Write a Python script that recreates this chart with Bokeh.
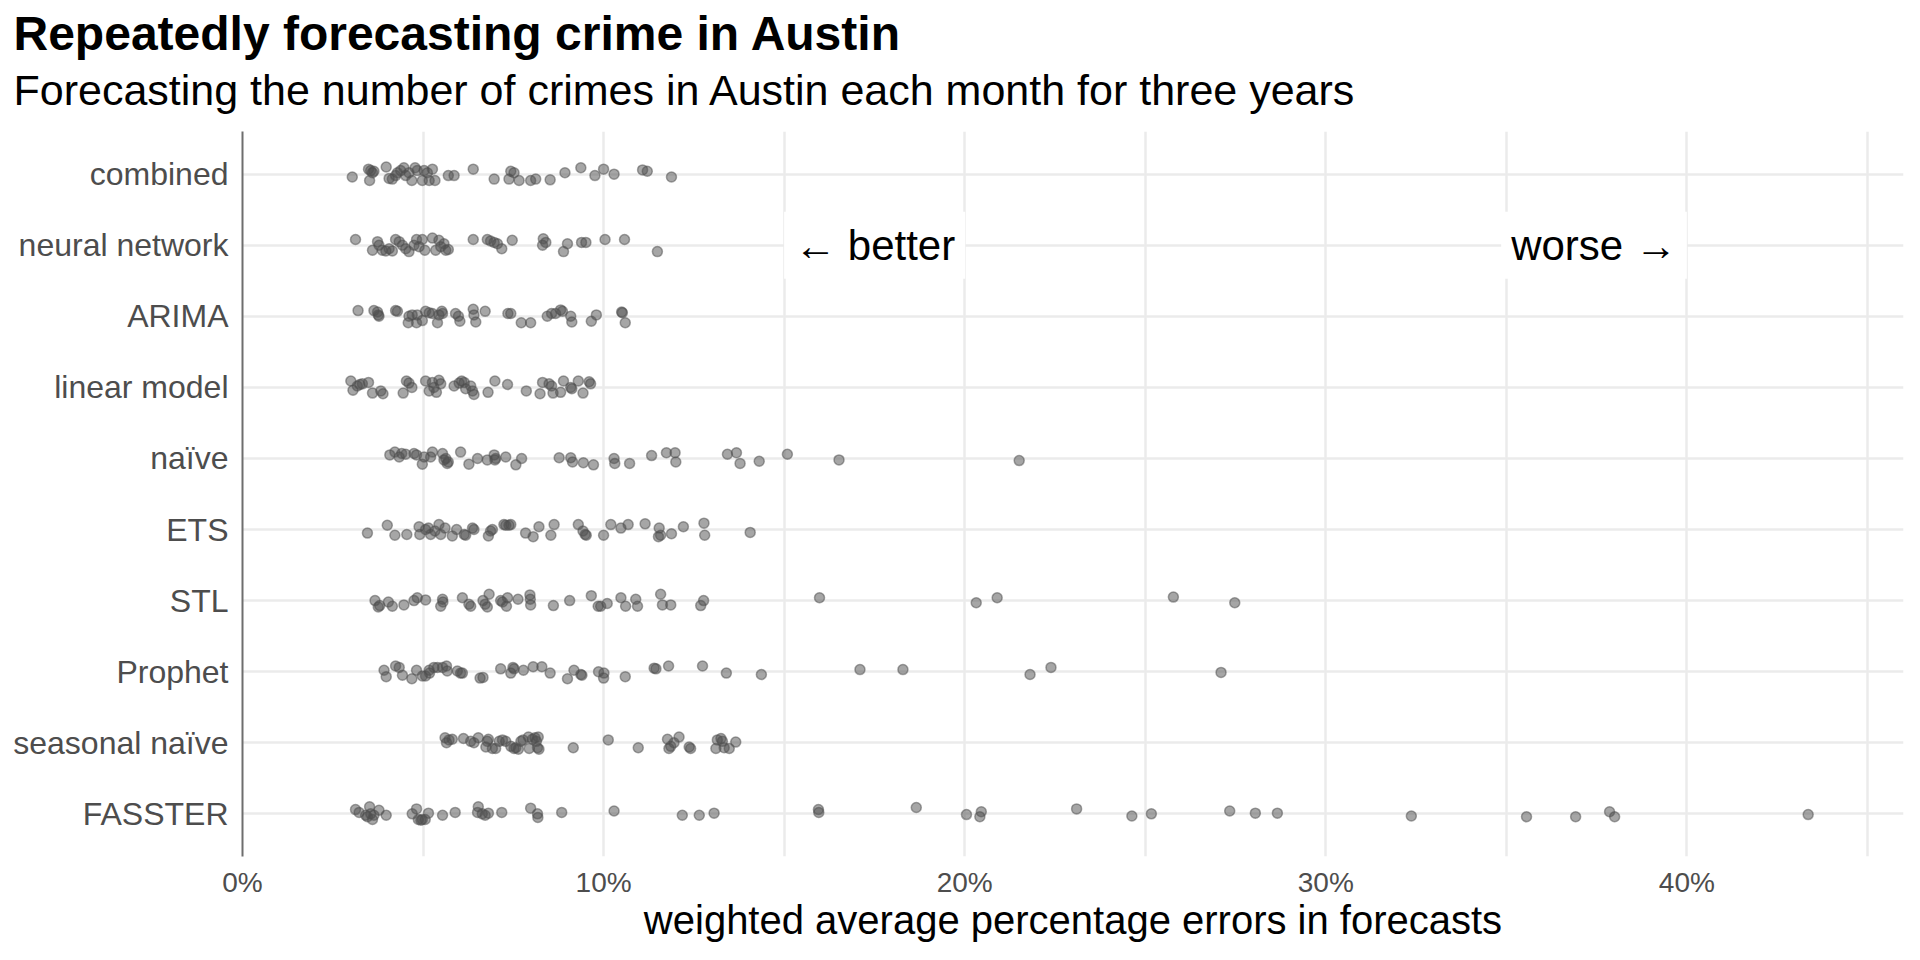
from bokeh.plotting import figure
from bokeh.models import FixedTicker, Label, Title, Range1d, ColumnDataSource
from bokeh.embed import file_html
from bokeh.resources import INLINE

# ---------------- data ----------------
methods = ["combined", "neural network", "ARIMA", "linear model", "naïve",
           "ETS", "STL", "Prophet", "seasonal naïve", "FASSTER"]

combined_x = [3.04, 3.49, 3.55, 3.64, 3.52, 3.60, 3.98, 4.06, 4.15, 4.24, 4.29, 4.38, 4.47, 4.52, 4.61,
              4.69, 4.78, 4.84, 4.98, 5.03, 5.12, 5.17, 5.26, 5.33, 5.70, 5.86, 6.39, 6.97, 7.38, 7.43,
              7.52, 7.66, 7.98, 8.12, 8.52, 8.93, 9.37, 9.76, 10.00, 10.29, 11.08, 11.21, 11.88]
combined_j = [-.04, .07, .05, .04, -.09, .02, .10, -.06, -.07, -.02, .02, .05, .09, -.02, .02,
              -.09, .09, .05, -.09, .05, .02, -.09, .07, -.09, -.02, -.02, .07, -.07, -.07, .04,
              .02, -.09, -.09, -.07, -.08, .02, .09, -.02, .07, 0, .06, .04, -.04]

neural_x = [3.13, 3.60, 3.74, 3.78, 3.87, 3.97, 4.06, 4.15, 4.24, 4.34, 4.43, 4.52, 4.61, 4.75, 4.82,
            4.89, 4.98, 5.05, 5.26, 5.35, 5.44, 5.49, 5.58, 5.63, 5.70, 6.39, 6.78, 6.87, 6.97, 7.06,
            7.18, 7.47, 8.33, 8.31, 8.40, 8.89, 9.00, 9.39, 9.51, 10.04, 10.58, 11.49]
neural_j = [.08, -.07, .05, 0, -.07, -.08, -.05, -.08, .08, .05, 0, -.05, -.09, 0, .08,
            -.02, .08, -.07, .10, -.07, .07, -.02, .02, -.07, -.06, .08, .08, .06, .04, .02,
            -.05, .07, .09, 0, .04, -.09, .02, .04, .04, .08, .08, -.09]

arima_x = [3.20, 3.64, 3.74, 3.78, 3.76, 4.24, 4.29, 4.61, 4.59, 4.70, 4.82, 4.84, 4.98, 5.07, 5.17,
           5.26, 5.40, 5.44, 5.52, 5.54, 5.90, 5.98, 6.02, 6.39, 6.41, 6.46, 6.72, 7.35, 7.43, 7.72,
           7.98, 8.44, 8.56, 8.67, 8.81, 8.86, 9.09, 9.12, 9.66, 9.80, 10.50, 10.52, 10.60]
arima_j = [.08, .08, .06, 0, .02, .08, .07, 0, -.09, .02, -.09, .02, -.06, .07, .05,
           .04, -.09, .02, .07, .04, .04, 0, -.07, .10, .02, -.08, .07, .04, .04, -.09,
           -.09, 0, .04, .04, .09, .07, 0, -.08, -.07, .02, .06, .05, -.09]

linear_x = [3.00, 3.06, 3.18, 3.25, 3.32, 3.49, 3.60, 3.83, 3.89, 4.45, 4.54, 4.61, 4.69, 5.07, 5.17,
            5.26, 5.30, 5.37, 5.44, 5.49, 5.86, 6.00, 6.07, 6.14, 6.18, 6.32, 6.37, 6.41, 6.80, 6.99,
            7.34, 7.86, 8.24, 8.31, 8.49, 8.56, 8.60, 8.81, 8.89, 9.09, 9.12, 9.30, 9.43, 9.60, 9.64]
linear_j = [.09, -.04, .02, .04, .05, .07, -.08, -.05, -.09, -.08, .09, .06, 0, .09, -.05,
            .07, 0, -.07, .10, .05, .02, .06, .09, .07, -.02, .02, -.05, -.10, -.07, .09,
            .04, -.05, -.09, .07, .05, .02, -.08, -.07, .09, 0, -.02, .09, -.08, .08, .05]

naive_x = [4.08, 4.22, 4.34, 4.41, 4.52, 4.75, 4.82, 4.98, 5.03, 5.21, 5.26, 5.54, 5.58, 5.67, 5.63,
           5.70, 6.04, 6.27, 6.51, 6.78, 6.97, 7.01, 6.99, 7.29, 7.57, 7.73, 8.77, 9.09, 9.14, 9.44,
           9.72, 10.29, 10.31, 10.72, 11.33, 11.74, 11.98, 12.00, 13.43, 13.68, 13.78, 14.31, 15.09,
           16.52, 21.51]
naive_j = [.05, .09, .02, .07, .06, .07, .05, -.08, .02, .02, .09, .07, -.02, -.07, 0,
           -.05, .09, -.08, 0, -.02, .05, 0, -.02, .02, -.09, 0, .01, .01, -.05, -.06,
           -.09, 0, -.07, -.07, .04, .08, .08, -.05, .06, .08, -.07, -.04, .06,
           -.02, -.03]

ets_x = [3.46, 4.01, 4.22, 4.55, 4.89, 4.91, 5.07, 5.15, 5.21, 5.33, 5.44, 5.49, 5.61, 5.81, 5.93,
         6.14, 6.18, 6.37, 6.41, 6.81, 6.87, 6.92, 7.24, 7.29, 7.38, 7.43, 7.84, 8.05, 8.21, 8.54,
         8.63, 9.30, 9.43, 9.49, 9.52, 10.00, 10.20, 10.48, 10.68, 11.15, 11.54, 11.52, 11.58, 11.88,
         12.21, 12.78, 12.80, 14.06]
ets_j = [-.05, .06, -.08, -.07, .04, -.07, 0, .02, -.07, -.02, .07, -.07, .02, -.09, 0,
         -.07, -.08, .02, 0, -.09, -.02, 0, .07, .06, .06, .07, -.05, -.10, .04, -.08,
         .07, .07, -.02, -.07, -.08, -.08, .07, .02, .07, .08, .02, -.10, -.08, -.06,
         .04, .09, -.08, -.04]

stl_x = [3.67, 3.76, 3.80, 4.04, 4.15, 4.47, 4.75, 4.84, 5.07, 5.49, 5.54, 5.55, 6.09, 6.27, 6.32,
         6.66, 6.72, 6.78, 6.83, 7.15, 7.20, 7.31, 7.34, 7.63, 7.96, 7.97, 7.98, 8.61, 9.06, 9.66,
         9.85, 9.92, 10.10, 10.48, 10.61, 10.89, 10.94, 11.58, 11.63, 11.86, 12.69, 12.77,
         15.98, 20.32, 20.90, 25.78, 27.48]
stl_j = [0, -.09, -.07, -.02, -.08, -.06, 0, .04, .01, -.08, .02, -.02, .04, -.05, -.08,
         0, -.05, -.09, .09, 0, -.02, -.08, .04, .02, .08, .02, -.06, -.07, 0, .07,
         -.08, -.08, -.04, .04, -.08, .02, -.08, .09, -.06, -.06, -.07, 0,
         .04, -.03, .04, .05, -.03]

prophet_x = [3.92, 3.98, 4.24, 4.34, 4.43, 4.69, 4.82, 4.98, 5.07, 5.17, 5.18, 5.30, 5.40, 5.54, 5.65,
             5.67, 5.95, 6.04, 6.09, 6.58, 6.66, 7.15, 7.43, 7.49, 7.52, 7.78, 8.05, 8.29, 8.52, 9.00,
             9.18, 9.37, 9.40, 9.86, 10.01, 10.00, 10.60, 11.40, 11.45, 11.80, 12.74, 13.40, 14.37,
             17.10, 18.29, 21.81, 22.39, 27.10]
prophet_j = [.02, -.07, .08, .06, -.05, -.10, .02, -.06, -.06, .02, -.02, .06, .06, .06, .08,
             .01, .01, -.02, -.02, -.09, -.08, .04, -.02, .06, .04, .02, .07, .07, -.02, -.10,
             .02, -.04, -.05, 0, -.02, -.09, -.07, .05, .04, .08, .08, -.02, -.04,
             .03, .03, -.04, .06, -.01]

snaive_x = [5.61, 5.65, 5.72, 5.81, 6.12, 6.32, 6.41, 6.53, 6.74, 6.78, 6.81, 6.92, 7.01, 7.11, 7.20,
            7.29, 7.43, 7.52, 7.57, 7.64, 7.71, 7.77, 7.92, 7.94, 8.03, 8.10, 8.14, 8.19, 8.21, 8.17,
            9.16, 10.13, 10.96, 11.77, 11.81, 11.86, 11.95, 12.09, 12.37, 12.41, 13.11, 13.15, 13.25,
            13.29, 13.34, 13.48, 13.66]
snaive_j = [.07, 0, .04, .05, .06, .02, 0, .07, -.06, .02, .05, -.08, -.08, .02, .04,
            .02, -.05, -.08, -.07, -.09, .02, .04, .08, -.08, .05, .07, .02, .08, -.09, -.07,
            -.07, .04, -.07, .05, -.08, -.05, 0, .08, -.06, -.08, -.08, .04, .06,
            .02, -.07, -.08, .01]

fasster_x = [3.13, 3.23, 3.41, 3.46, 3.52, 3.55, 3.60, 3.64, 3.78, 3.98, 4.70, 4.82, 4.87, 4.94, 4.98,
             5.06, 5.15, 5.54, 5.89, 6.53, 6.51, 6.64, 6.72, 6.81, 7.18, 7.98, 8.17, 8.18, 8.84, 10.29,
             12.18, 12.65, 13.06, 15.95, 15.96, 18.66, 20.05, 20.46, 20.42, 23.10, 24.63, 25.17, 27.34,
             28.05, 28.66, 32.37, 35.56, 36.92, 37.86, 38.00, 43.36]
fasster_j = [.06, .02, -.02, -.04, .10, 0, -.08, -.02, .05, -.02, 0, .07, -.08, -.09, -.08,
             -.08, .01, -.02, .02, .10, .02, 0, -.02, .01, .02, .08, 0, -.05, .02, .04,
             -.02, -.02, .01, .06, .02, .09, -.01, .03, -.04, .07, -.03, 0, .04,
             .01, .01, -.03, -.04, -.04, .03, -.04, -.01]

series_x = [combined_x, neural_x, arima_x, linear_x, naive_x, ets_x, stl_x, prophet_x, snaive_x, fasster_x]
series_j = [combined_j, neural_j, arima_j, linear_j, naive_j, ets_j, stl_j, prophet_j, snaive_j, fasster_j]

x_tick_values = [0, 10, 20, 30, 40]
x_tick_labels = ["0%", "10%", "20%", "30%", "40%"]
x_minor_values = [5, 15, 25, 35, 45]

title_text = "Repeatedly forecasting crime in Austin"
subtitle_text = "Forecasting the number of crimes in Austin each month for three years"
x_title = "weighted average percentage errors in forecasts"

# ---------------- build ----------------
n = len(methods)
ypos = {m: n - 1 - i for i, m in enumerate(methods)}  # combined on top

xs, ys = [], []
for m, vx, vj in zip(methods, series_x, series_j):
    for k, v in enumerate(vx):
        jj = vj[k] if k < len(vj) else 0.0
        xs.append(v)
        ys.append(ypos[m] + jj)
src = ColumnDataSource(dict(x=xs, y=ys))

FONT = "Liberation Sans"
GRID = "#EBEBEB"

p = figure(width=1904, height=944, output_backend="svg", toolbar_location=None, title=None,
           x_range=Range1d(0, 46), y_range=Range1d(-0.6, n - 1 + 0.6),
           min_border_left=242, min_border_right=1, min_border_bottom=87, min_border_top=131)
p.outline_line_color = None
p.background_fill_color = "white"
p.border_fill_color = "white"

# titles: stacked outward from the frame (spacer, subtitle, title)
spacer = Title(text=" ", text_font=FONT, text_font_size="14px", align="left", standoff=0)
p.add_layout(spacer, "above")
sub = Title(text=subtitle_text, text_font=FONT, text_font_size="43px", text_font_style="normal",
            text_color="black", align="left", offset=-229, standoff=0)
p.add_layout(sub, "above")
ttl = Title(text=title_text, text_font=FONT, text_font_size="48px", text_font_style="bold",
            text_color="black", align="left", offset=-229, standoff=7)
p.add_layout(ttl, "above")

# x axis
p.xaxis.ticker = FixedTicker(ticks=x_tick_values, minor_ticks=x_minor_values)
p.xaxis.major_label_overrides = {v: l for v, l in zip(x_tick_values, x_tick_labels)}
p.xaxis.axis_line_color = None
p.xaxis.major_tick_line_color = None
p.xaxis.minor_tick_line_color = None
p.xaxis.major_label_text_font = FONT
p.xaxis.major_label_text_font_size = "28px"
p.xaxis.major_label_text_color = "#4D4D4D"
p.xaxis.major_label_standoff = 4
p.xaxis.axis_label = x_title
p.xaxis.axis_label_text_font = FONT
p.xaxis.axis_label_text_font_size = "40px"
p.xaxis.axis_label_text_font_style = "normal"
p.xaxis.axis_label_text_color = "black"
p.xaxis.axis_label_standoff = -3

# y axis
p.yaxis.ticker = FixedTicker(ticks=list(range(n)))
p.yaxis.major_label_overrides = {ypos[m]: m for m in methods}
p.yaxis.axis_line_color = "#6E6E6E"
p.yaxis.axis_line_width = 2
p.yaxis.major_tick_line_color = None
p.yaxis.minor_tick_line_color = None
p.yaxis.major_label_text_font = FONT
p.yaxis.major_label_text_font_size = "32px"
p.yaxis.major_label_text_color = "#4D4D4D"
p.yaxis.major_label_standoff = 8

# grids
p.xgrid.ticker = FixedTicker(ticks=x_tick_values, minor_ticks=x_minor_values)
p.xgrid.grid_line_color = GRID
p.xgrid.grid_line_width = 2.5
p.xgrid.minor_grid_line_color = GRID
p.xgrid.minor_grid_line_width = 2.5
p.ygrid.ticker = FixedTicker(ticks=list(range(n)))
p.ygrid.grid_line_color = GRID
p.ygrid.grid_line_width = 2.5

p.scatter("x", "y", source=src, size=10, fill_color="#4D4D4D", fill_alpha=0.5,
          line_color="#4D4D4D", line_alpha=0.5, line_width=1.5)

y_ann = ypos["neural network"]
p.add_layout(Label(x=15, y=y_ann, text="← better", text_align="left", text_baseline="middle",
                   text_font=FONT, text_font_size="42px", text_color="black",
                   background_fill_color="white", padding=10))
p.add_layout(Label(x=40, y=y_ann, text="worse →", text_align="right", text_baseline="middle",
                   text_font=FONT, text_font_size="42px", text_color="black",
                   background_fill_color="white", padding=10))

open("out.html", "w").write(file_html(p, INLINE))
